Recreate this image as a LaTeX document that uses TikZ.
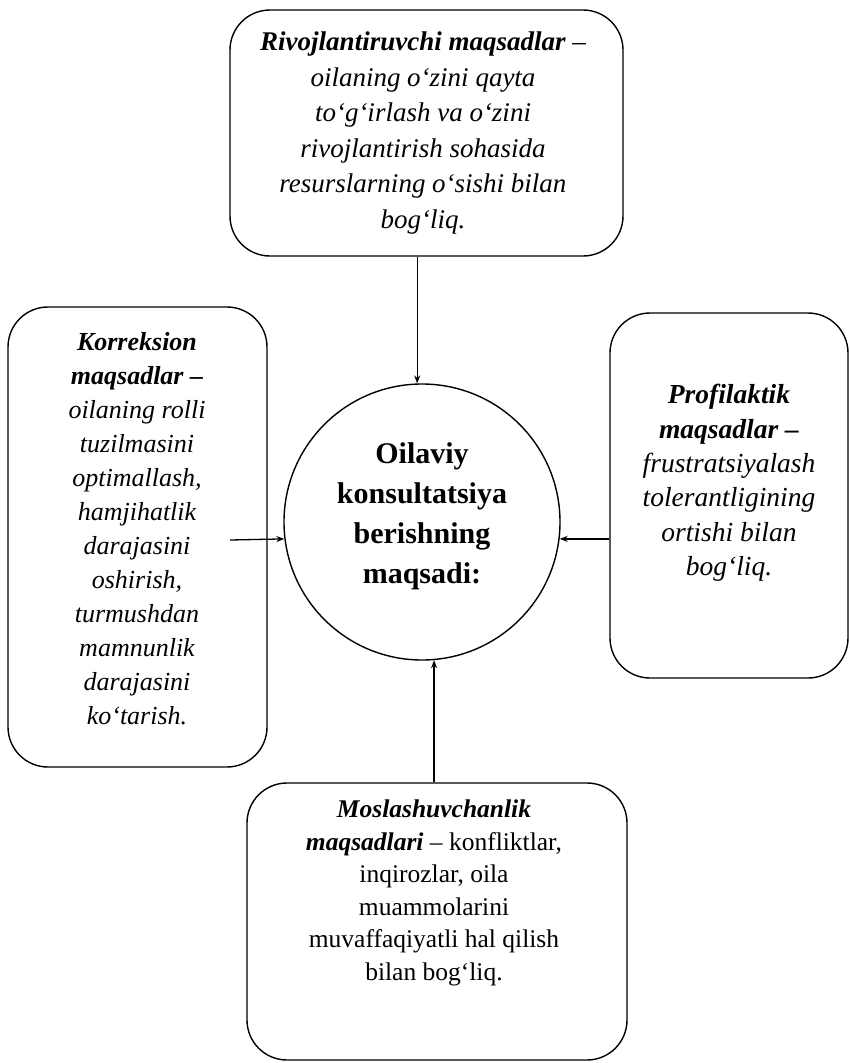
\documentclass[tikz,border=0pt]{standalone}
\usepackage{fontspec}
\setmainfont{Liberation Serif}
\usetikzlibrary{arrows.meta}
\begin{document}
\begin{tikzpicture}[x=1pt,y=-1pt,
  box/.style={draw, line width=1.4pt, rounded corners=40pt, inner sep=0pt},
  txt/.style={align=center, inner sep=0pt},
  conn/.style={line width=1.3pt, -{Stealth[length=8pt,width=6pt]}}]
\useasboundingbox (0,0) rectangle (849,1063);
% boxes
\node[box, minimum width=393pt, minimum height=246pt] (T) at (426.5,133) {};
\node[box, minimum width=259pt, minimum height=460pt] (L) at (137.5,537) {};
\node[box, minimum width=238pt, minimum height=365pt] (R) at (729,495.5) {};
\node[box, minimum width=380pt, minimum height=277pt] (B) at (437,921.5) {};
\node[draw, circle, line width=1.4pt, minimum size=276pt, inner sep=0pt] (C) at (422,522) {};
% texts
\node[txt, font=\fontsize{27}{35.5}\selectfont\itshape] (Tt) at (423,133)
  {\textbf{Rivojlantiruvchi maqsadlar} –\\ oilaning o‘zini qayta\\ to‘g‘irlash va o‘zini\\ rivojlantirish sohasida\\ resurslarning o‘sishi bilan\\ bog‘liq.};
\node[txt, font=\fontsize{26}{34}\selectfont\itshape] (Lt) at (137,528.5)
  {\textbf{Korreksion}\\ \textbf{maqsadlar –}\\ oilaning rolli\\ tuzilmasini\\ optimallash,\\ hamjihatlik\\ darajasini\\ oshirish,\\ turmushdan\\ mamnunlik\\ darajasini\\ ko‘tarish.};
\node[txt, font=\fontsize{27.5}{34.4}\selectfont\itshape] (Rt) at (729,483)
  {\textbf{Profilaktik}\\ \textbf{maqsadlar –}\\ frustratsiyalash\\ tolerantligining\\ ortishi bilan\\ bog‘liq.};
\node[txt, font=\fontsize{25.5}{32.5}\selectfont] (Bt) at (434,893)
  {\textbf{\itshape Moslashuvchanlik}\\ \textbf{\itshape maqsadlari} – konfliktlar,\\ inqirozlar, oila\\ muammolarini\\ muvaffaqiyatli hal qilish\\ bilan bog‘liq.};
\node[txt, font=\fontsize{30}{40}\selectfont\bfseries] (Ct) at (422,516)
  {Oilaviy\\ konsultatsiya\\ berishning\\ maqsadi:};
% connectors
\coordinate (Lstart) at (230,540);
\draw[conn] (C.92 |- T.south) -- (C.92);
\draw[conn] (Lstart) -- (C.187.5);
\draw[conn] (R.west |- C.-7.5) -- (C.-7.5);
\draw[conn] (C.-85.4 |- B.north) -- (C.-85.4);
\end{tikzpicture}
\end{document}
